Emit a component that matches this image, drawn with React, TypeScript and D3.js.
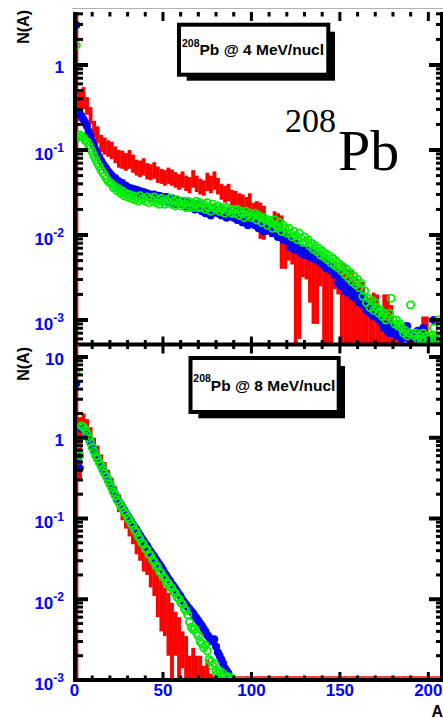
import React from "react";
import * as d3 from "d3";

// ---------- data ----------
// N(A) per mass number A (A starts at 1), 4 MeV/nucl panel
const topBlue = [
  2.95, 0.26, 0.27, 0.25, 0.23, 0.21, 0.19, 0.165, 0.145, 0.128,
  0.113, 0.1, 0.09, 0.082, 0.075, 0.069, 0.064, 0.06, 0.056, 0.053,
  0.05, 0.046, 0.047, 0.042, 0.043, 0.039, 0.041, 0.037, 0.038, 0.035,
  0.036, 0.033, 0.035, 0.032, 0.034, 0.031, 0.033, 0.03, 0.032, 0.029,
  0.031, 0.028, 0.03, 0.027, 0.03, 0.028, 0.026, 0.029, 0.026, 0.028,
  0.025, 0.028, 0.026, 0.024, 0.027, 0.025, 0.023, 0.026, 0.024, 0.025,
  0.023, 0.025, 0.022, 0.024, 0.021, 0.024, 0.022, 0.02, 0.023, 0.021,
  0.022, 0.019, 0.021, 0.018, 0.021, 0.02, 0.017, 0.021, 0.019, 0.02,
  0.018, 0.02, 0.017, 0.019, 0.018, 0.016, 0.019, 0.017, 0.018, 0.016,
  0.017, 0.015, 0.017, 0.016, 0.014, 0.016, 0.015, 0.013, 0.015, 0.014,
  0.015, 0.013, 0.014, 0.012, 0.014, 0.013, 0.011, 0.013, 0.012, 0.0115,
  0.012, 0.0105, 0.0125, 0.011, 0.0095, 0.011, 0.0102, 0.0088, 0.0098, 0.0085,
  0.009, 0.0072, 0.0085, 0.0068, 0.008, 0.0066, 0.0072, 0.0061, 0.0069, 0.0058,
  0.0066, 0.0057, 0.0063, 0.0054, 0.0061, 0.0052, 0.0058, 0.0049, 0.0055, 0.0046,
  0.005, 0.0041, 0.0047, 0.0042, 0.0038, 0.0044, 0.0034, 0.0036, 0.0027, 0.003,
  0.0025, 0.0029, 0.0022, 0.0027, 0.0021, 0.0025, 0.0019, 0.0023, 0.0018, 0.0021,
  0.0016, 0.0019, 0.0015, 0.0017, 0.0013, 0.0016, 0.0012, 0.0014, 0.0011, 0.0013,
  0.0012, 0.001, 0.0011, 0.0009, 0.0008, 0.0009, 0.00075, 0.0007, 0.00085, 0.0007,
  0.0008, 0.00065, 0.0007, 0.00075, 0.0006, 0.0008, 0.0007, 0.00085, 0.0006, 0.0007,
  0.00065, 0.0007, 0.0006, 0.00075, 0.0007, 0.00065, 0.0008, 0.0006, 0.0006, 0.00055,
  0.0006, 0.00055, 0.001, 0.0006, 0.0005, 0.00055, 0.0005,
];

const topGreen = [
  1.7, 0.14, 0.15, 0.145, 0.14, 0.13, 0.125, 0.115, 0.105, 0.095,
  0.085, 0.077, 0.07, 0.064, 0.058, 0.054, 0.05, 0.046, 0.043, 0.041,
  0.04, 0.036, 0.037, 0.033, 0.035, 0.031, 0.033, 0.029, 0.031, 0.028,
  0.03, 0.027, 0.029, 0.026, 0.028, 0.025, 0.029, 0.026, 0.027, 0.025,
  0.028, 0.024, 0.027, 0.025, 0.028, 0.024, 0.026, 0.023, 0.027, 0.025,
  0.023, 0.026, 0.024, 0.027, 0.023, 0.025, 0.022, 0.026, 0.024, 0.022,
  0.025, 0.023, 0.021, 0.025, 0.022, 0.024, 0.021, 0.023, 0.025, 0.021,
  0.024, 0.021, 0.023, 0.02, 0.024, 0.021, 0.019, 0.023, 0.021, 0.02,
  0.022, 0.019, 0.021, 0.02, 0.018, 0.021, 0.019, 0.02, 0.018, 0.02,
  0.018, 0.02, 0.017, 0.019, 0.018, 0.016, 0.019, 0.017, 0.018, 0.016,
  0.017, 0.018, 0.015, 0.017, 0.016, 0.014, 0.016, 0.015, 0.013, 0.015,
  0.014, 0.012, 0.015, 0.013, 0.012, 0.014, 0.011, 0.013, 0.012, 0.0105,
  0.012, 0.0105, 0.0095, 0.011, 0.0098, 0.0088, 0.0105, 0.0092, 0.0082, 0.0095,
  0.0082, 0.0088, 0.0074, 0.008, 0.0068, 0.0075, 0.0064, 0.007, 0.0058, 0.0065,
  0.0055, 0.006, 0.0051, 0.0057, 0.0047, 0.0053, 0.0044, 0.0049, 0.0041, 0.0045,
  0.0038, 0.0042, 0.0034, 0.0039, 0.0031, 0.0036, 0.0028, 0.0033, 0.0026, 0.003,
  0.0024, 0.0027, 0.0019, 0.0022, 0.0016, 0.0018, 0.0014, 0.0017, 0.0013, 0.0016,
  0.0014, 0.0012, 0.0013, 0.0011, 0.0012, 0.001, 0.0011, 0.0012, 0.0018, 0.001,
  0.0009, 0.001, 0.00085, 0.0009, 0.0008, 0.0007, 0.00075, 0.00065, 0.0007, 0.0015,
  0.0007, 0.00065, 0.0007, 0.0006, 0.00065, 0.0006, 0.0007, 0.0006, 0.00065, 0.0006,
  0.00065, 0.0006, 0.0008, 0.0006, 0.00065, 0.001, 0.0006,
];

// red histogram, bins of width 2 starting at A = 0: upper / lower edge of band
const topRedHi = [
  100, 0.5, 0.55, 0.42, 0.32, 0.22, 0.19, 0.15, 0.14, 0.13,
  0.125, 0.11, 0.1, 0.098, 0.092, 0.1, 0.088, 0.077, 0.075, 0.08,
  0.07, 0.068, 0.072, 0.064, 0.06, 0.058, 0.062, 0.059, 0.055, 0.052,
  0.056, 0.05, 0.048, 0.058, 0.05, 0.046, 0.044, 0.054, 0.05, 0.056,
  0.047, 0.04, 0.038, 0.04, 0.034, 0.033, 0.031, 0.03, 0.028, 0.031,
  0.024, 0.025, 0.024, 0.022, 0.015, 0.016, 0.019, 0.018, 0.017, 0.012,
  0.01, 0.009, 0.0075, 0.007, 0.0068, 0.0065, 0.007, 0.006, 0.0062, 0.0055,
  0.005, 0.0048, 0.005, 0.0045, 0.004, 0.0047, 0.0045, 0.004, 0.0038, 0.0032,
  0.003, 0.0028, 0.0019, 0.0018, 0.0021, 0.002, 0.0012, 0.002, 0.002, 0.0015,
  0.0009, 0.0008, 0.0007, 0, 0, 0.0007, 0, 0, 0.0011, 0.0011,
];
const topRedLo = [
  0, 0.22, 0.3, 0.26, 0.2, 0.14, 0.12, 0.095, 0.088, 0.083,
  0.078, 0.07, 0.062, 0.06, 0.057, 0.06, 0.054, 0.05, 0.048, 0.05,
  0.045, 0.044, 0.046, 0.041, 0.04, 0.038, 0.04, 0.038, 0.036, 0.034,
  0.036, 0.033, 0.031, 0.036, 0.032, 0.03, 0.029, 0.033, 0.031, 0.034,
  0.03, 0.026, 0.024, 0.025, 0.021, 0.02, 0.019, 0.016, 0.014, 0.015,
  0.013, 0.012, 0.009, 0.0088, 0.01, 0.0095, 0.011, 0.01, 0.004, 0.004,
  0.005, 0.0045, 0, 0.0006, 0.0032, 0.003, 0.0016, 0.0009, 0.0009, 0.0025,
  0, 0, 0, 0.0023, 0.002, 0, 0, 0, 0, 0,
  0, 0, 0, 0, 0, 0, 0, 0, 0, 0,
  0, 0, 0, 0, 0, 0, 0, 0, 0, 0,
];

// 8 MeV/nucl panel
const botBlue = [
  4.7, 0.57, 0.42, 1.28, 1.3, 1.22, 1.1, 0.98, 0.87, 0.78,
  0.69, 0.61, 0.55, 0.5, 0.45, 0.41, 0.37, 0.335, 0.3, 0.27,
  0.245, 0.22, 0.198, 0.178, 0.163, 0.15, 0.14, 0.128, 0.118, 0.108,
  0.1, 0.092, 0.085, 0.078, 0.073, 0.067, 0.062, 0.057, 0.053, 0.049,
  0.046, 0.042, 0.039, 0.036, 0.034, 0.031, 0.029, 0.027, 0.025, 0.023,
  0.021, 0.0195, 0.018, 0.0168, 0.0155, 0.0145, 0.0135, 0.0125, 0.0115, 0.0108,
  0.0098, 0.0092, 0.0086, 0.008, 0.0076, 0.0071, 0.0067, 0.0062, 0.0058, 0.0054,
  0.005, 0.0047, 0.0043, 0.004, 0.0036, 0.0034, 0.0031, 0.003, 0.0032, 0.0026,
  0.0022, 0.002, 0.0018, 0.0016, 0.0014, 0.0013, 0.0012,
];
const botGreen = [
  6.5, 0.85, 0.6, 1.4, 1.35, 1.26, 1.13, 0.99, 0.88, 0.77,
  0.68, 0.6, 0.55, 0.49, 0.45, 0.4, 0.36, 0.33, 0.295, 0.265,
  0.24, 0.212, 0.192, 0.17, 0.158, 0.144, 0.135, 0.122, 0.114, 0.103,
  0.096, 0.087, 0.081, 0.072, 0.068, 0.06, 0.056, 0.05, 0.048, 0.042,
  0.041, 0.036, 0.035, 0.031, 0.029, 0.026, 0.025, 0.022, 0.021, 0.019,
  0.018, 0.016, 0.0158, 0.0142, 0.0138, 0.0124, 0.0118, 0.0106, 0.0101, 0.0091,
  0.0087, 0.0077, 0.0072, 0.0064, 0.0052, 0.0045, 0.0042, 0.0043, 0.0038, 0.0035,
  0.003, 0.0028, 0.0025, 0.0027, 0.0023, 0.0018, 0.0017, 0.0015, 0.0016, 0.0013,
  0.0012, 0.0013, 0.0011, 0.0012, 0.0011, 0.00105, 0.0011, 0.001, 0.00105, 0.001,
];
const botRedHi = [
  100, 1.8, 2.0, 1.7, 1.35, 1.0, 0.8, 0.62, 0.5, 0.4,
  0.32, 0.25, 0.2, 0.16, 0.12, 0.1, 0.08, 0.065, 0.052, 0.045,
  0.038, 0.03, 0.025, 0.02, 0.018, 0.014, 0.012, 0.009, 0.007, 0.006,
  0.004, 0.0035, 0.002, 0.0025, 0.002, 0.002, 0.0015, 0.0018, 0.0012, 0.0011,
];
const botRedLo = [
  0, 0.3, 1.0, 0.9, 0.7, 0.6, 0.5, 0.4, 0.32, 0.25,
  0.2, 0.16, 0.12, 0.095, 0.075, 0.06, 0.048, 0.036, 0.03, 0.022,
  0.02, 0.014, 0.011, 0.006, 0.004, 0.0035, 0.002, 0, 0.002, 0,
  0.0014, 0, 0, 0, 0, 0, 0, 0, 0, 0,
];

const xTickValues = [0, 50, 100, 150, 200];
const topLegend = { sup: "208", main: "Pb @ 4 MeV/nucl" };
const botLegend = { sup: "208", main: "Pb @ 8 MeV/nucl" };

// ---------- layout ----------
const W = 443;
const H = 719;
const X0 = 74.5;
const X1 = 442.5;
const BIN = 2;
const SANS = "'Liberation Sans', Arial, Helvetica, sans-serif";
const SERIF = "'Liberation Serif', 'Times New Roman', serif";
const BLUE = "#0000ff";
const RED = "#ff0000";
const GREEN = "#00ee00";

const xs = d3.scaleLinear().domain([0, 208]).range([X0, X1]);

type PanelCfg = {
  id: string;
  top: number;
  bottom: number;
  y: d3.ScaleLogarithmic<number, number>;
  blue: number[];
  green: number[];
  redHi: number[];
  redLo: number[];
  redFloorFrom?: number;
  legend: { sup: string; main: string };
  box: { x: number; y: number; w: number; h: number; sx0: number; sy0: number; sx1: number; sy1: number };
  textX: number;
  textY: number;
  titleEndY: number;
};

function logTicks(lo: number, hi: number) {
  const out: { v: number; major: boolean; e: number }[] = [];
  for (let e = Math.floor(Math.log10(lo)); e <= Math.ceil(Math.log10(hi)); e++) {
    for (let m = 1; m <= 9; m++) {
      const v = m * Math.pow(10, e);
      if (v >= lo * 0.9999 && v <= hi) out.push({ v, major: m === 1, e });
    }
  }
  return out;
}

function TickLabel({ e, y }: { e: number; y: number }) {
  const common = { fill: BLUE, fontFamily: SANS, fontWeight: 700, textAnchor: "end" as const };
  if (e >= 0) {
    return (
      <text x={64} y={y + 8} fontSize={17} {...common}>
        {e === 0 ? "1" : "10"}
      </text>
    );
  }
  return (
    <text x={64} y={y + 9.5} fontSize={17} {...common}>
      <tspan>10</tspan>
      <tspan dy={-7.5} fontSize={12}>{String(e)}</tspan>
    </text>
  );
}

function Panel({ cfg }: { cfg: PanelCfg }) {
  const { y, top, bottom } = cfg;
  const [dLo, dHi] = y.domain();
  const clipId = "clip-" + cfg.id;
  const yTicks = logTicks(dLo, dHi);
  const xMinor = d3.range(0, 209, 10);

  const redRects = cfg.redHi
    .map((hi, i) => {
      if (hi <= 0) return null;
      const lo = cfg.redLo[i];
      const yTop = y(Math.min(hi, dHi * 10));
      const yBot = lo > 0 ? y(Math.max(lo, dLo / 10)) : bottom + 5;
      return (
        <rect
          key={"r" + i}
          x={xs(i * BIN)}
          y={yTop}
          width={xs((i + 1) * BIN) - xs(i * BIN) + 0.3}
          height={Math.max(0, yBot - yTop)}
          fill={RED}
        />
      );
    })
    .filter(Boolean);

  const pts = (arr: number[]) =>
    arr
      .map((v, i) => ({ a: i + 1, v }))
      .filter((d) => d.v >= dLo && d.v <= dHi);

  return (
    <g>
      <defs>
        <clipPath id={clipId}>
          <rect x={X0} y={top} width={X1 - X0} height={bottom - top} />
        </clipPath>
      </defs>
      <g clipPath={`url(#${clipId})`}>
        {redRects}
        {cfg.redFloorFrom !== undefined && (
          <line x1={xs(cfg.redFloorFrom)} x2={X1} y1={bottom - 3} y2={bottom - 3} stroke={RED} strokeWidth={1.5} />
        )}
        {pts(cfg.blue).map((d) => (
          <circle key={"b" + d.a} cx={xs(d.a)} cy={y(d.v)} r={4} fill={BLUE} />
        ))}
        {pts(cfg.green).map((d) => (
          <circle key={"g" + d.a} cx={xs(d.a)} cy={y(d.v)} r={3.6} fill="none" stroke={GREEN} strokeWidth={1.8} />
        ))}
      </g>

      {/* left axis */}
      <line x1={75} x2={75} y1={top} y2={bottom + 2} stroke="#000" strokeWidth={4} />
      {yTicks.map((t, i) => (
        <line key={"lt" + i} x1={76} x2={t.major ? 88 : 83} y1={y(t.v)} y2={y(t.v)} stroke="#000" strokeWidth={t.major ? 4 : 3} />
      ))}
      {/* right axis */}
      <line x1={441.5} x2={441.5} y1={top} y2={bottom} stroke="#000" strokeWidth={3} />
      {yTicks.map((t, i) => (
        <line key={"rt" + i} x1={t.major ? 429 : 436} x2={441} y1={y(t.v)} y2={y(t.v)} stroke="#000" strokeWidth={t.major ? 4 : 3} />
      ))}
      {yTicks
        .filter((t) => t.major)
        .map((t, i) => (
          <TickLabel key={"tl" + i} e={t.e} y={y(t.v)} />
        ))}

      {/* top ticks */}
      {xMinor.map((a) => {
        const major = a % 50 === 0;
        return (
          <line key={"tt" + a} x1={xs(a)} x2={xs(a)} y1={top} y2={top + (major ? 9 : 4.5)} stroke="#000" strokeWidth={3} />
        );
      })}
      {/* bottom axis */}
      <line x1={73} x2={443} y1={bottom} y2={bottom} stroke="#000" strokeWidth={4} />
      {xMinor.map((a) => {
        const major = a % 50 === 0;
        return (
          <line key={"bt" + a} x1={xs(a)} x2={xs(a)} y1={bottom} y2={bottom - (major ? 8 : 4.5)} stroke="#000" strokeWidth={3} />
        );
      })}

      {/* legend box */}
      <rect
        x={cfg.box.sx0}
        y={cfg.box.sy0}
        width={cfg.box.sx1 - cfg.box.sx0}
        height={cfg.box.sy1 - cfg.box.sy0}
        fill="#000"
      />
      <rect x={cfg.box.x} y={cfg.box.y} width={cfg.box.w} height={cfg.box.h} fill="#fff" stroke="#000" strokeWidth={4} />
      <text x={cfg.textX} y={cfg.textY} fontFamily={SANS} fontWeight={700} fontSize={15.5} fill="#000">
        <tspan fontSize={10.5} dy={-8.5}>{cfg.legend.sup}</tspan>
        <tspan dy={8.5}>{cfg.legend.main}</tspan>
      </text>

      {/* y title */}
      <text
        transform={`translate(28.5,${cfg.titleEndY}) rotate(-90)`}
        textAnchor="end"
        fontFamily={SANS}
        fontWeight={700}
        fontSize={16}
        fill="#000"
      >
        N(A)
      </text>
    </g>
  );
}

export default function App() {
  const topY = d3
    .scaleLog()
    .domain([Math.pow(10, -3.288), Math.pow(10, 0.6235)])
    .range([344.5, 12]);
  const botY = d3
    .scaleLog()
    .domain([1e-3, Math.pow(10, 1.155)])
    .range([680, 344.5]);

  const topCfg: PanelCfg = {
    id: "top",
    top: 12,
    bottom: 344.5,
    y: topY,
    blue: topBlue,
    green: topGreen,
    redHi: topRedHi,
    redLo: topRedLo,
    legend: topLegend,
    box: { x: 179, y: 24.7, w: 149.3, h: 50, sx0: 186.7, sy0: 31.7, sx1: 335, sy1: 80.7 },
    textX: 182,
    textY: 55,
    titleEndY: 10,
  };
  const botCfg: PanelCfg = {
    id: "bot",
    top: 344.5,
    bottom: 680,
    y: botY,
    blue: botBlue,
    green: botGreen,
    redHi: botRedHi,
    redLo: botRedLo,
    redFloorFrom: 64,
    legend: botLegend,
    box: { x: 190.5, y: 358, w: 148.2, h: 54, sx0: 198.3, sy0: 366, sx1: 345, sy1: 418.3 },
    textX: 193.3,
    textY: 390.7,
    titleEndY: 347,
  };

  return (
    <div style={{ position: "absolute", left: 0, top: 0 }}>
      <svg width={W} height={H} viewBox={`0 0 ${W} ${H}`} style={{ display: "block", background: "#fff" }}>
        <rect x={0} y={0} width={W} height={H} fill="#fff" />
        <line x1={72} x2={443} y1={8.5} y2={8.5} stroke="#b0b0b0" strokeWidth={1} />
        <Panel cfg={topCfg} />
        <Panel cfg={botCfg} />

        {/* big isotope label */}
        <text fontFamily={SERIF} fill="#000">
          <tspan x={285} y={132} fontSize={34}>208</tspan>
          <tspan x={338} y={170} fontSize={58}>Pb</tspan>
        </text>

        {/* x tick labels */}
        {xTickValues.map((v) => (
          <text
            key={"xl" + v}
            x={xs(v)}
            y={696}
            textAnchor="middle"
            fontFamily={SANS}
            fontWeight={700}
            fontSize={17}
            fill={BLUE}
          >
            {v}
          </text>
        ))}
        <text x={443} y={717} textAnchor="end" fontFamily={SANS} fontWeight={700} fontSize={16} fill="#000">
          A
        </text>
      </svg>
    </div>
  );
}
